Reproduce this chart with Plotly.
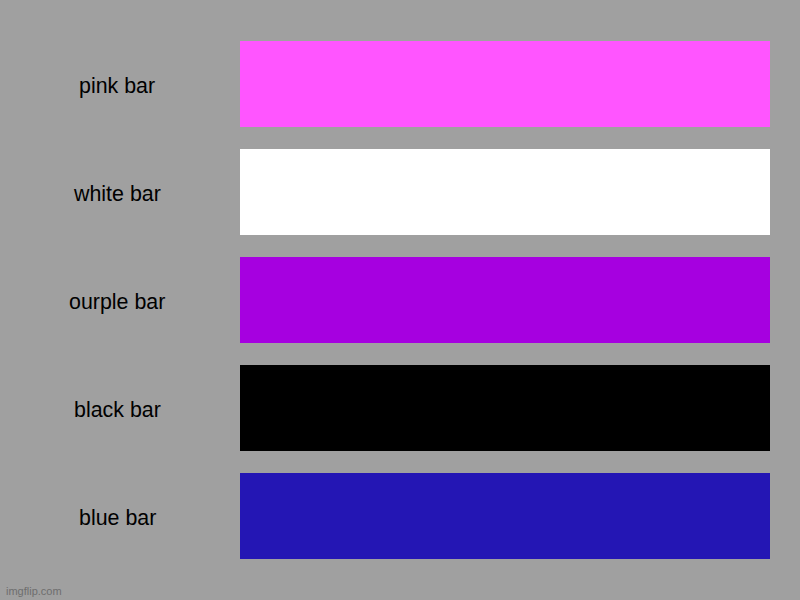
import plotly.graph_objects as go

categories = ["pink bar", "white bar", "ourple bar", "black bar", "blue bar"]
values = [1, 1, 1, 1, 1]
colors = ["#ff55ff", "#ffffff", "#a600e0", "#000000", "#2416b4"]

fig = go.Figure(go.Bar(
    x=values, y=categories, orientation="h",
    marker=dict(color=colors, line=dict(width=0)),
    hoverinfo="skip",
))

FONT = "Liberation Sans, Arial, sans-serif"
annotations = [
    dict(x=-123 / 530, y=c, xref="paper", yref="y", text=c, showarrow=False,
         xanchor="center", yanchor="middle", yshift=-1.5,
         font=dict(family=FONT, size=21.4, color="#000000"))
    for c in categories
]
annotations.append(dict(x=-236 / 530, y=-21 / 540, xref="paper", yref="paper",
                        text="imgflip.com", showarrow=False, xanchor="left", yanchor="middle",
                        font=dict(family=FONT, size=11, color="#6e6e6e")))

fig.update_layout(
    width=800, height=600,
    margin=dict(l=240, r=30, t=30, b=30),
    paper_bgcolor="#a0a0a0", plot_bgcolor="#a0a0a0",
    bargap=22 / 108,
    showlegend=False,
    annotations=annotations,
    xaxis=dict(visible=False, range=[0, 1]),
    yaxis=dict(autorange="reversed", showticklabels=False, showgrid=False, zeroline=False),
)

fig.write_html("out.html", config={"displayModeBar": False},
               post_script="document.body.style.margin='0';document.body.style.overflow='hidden';")
